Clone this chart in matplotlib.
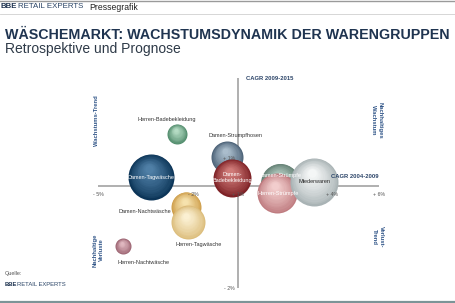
import numpy as np
import matplotlib
matplotlib.use("Agg")
import matplotlib.pyplot as plt
import matplotlib.transforms as mtransforms
from matplotlib.colors import to_rgb

plt.rcParams['font.family'] = ['Liberation Sans', 'DejaVu Sans']

# ---------------- data ----------------
categories = ["Herren-Badebekleidung", "Damen-Strumpfhosen", "Damen-Tagwäsche",
              "Damen-Badebekleidung", "Damen-Nachtwäsche", "Herren-Tagwäsche",
              "Herren-Nachtwäsche", "Damen-Strümpfe", "Herren-Strümpfe", "Miederwaren"]
cagr_2004_2009 = [-2.5, 0.27, -3.33, 0.6, -2.22, -2.16, -4.21, 2.34, 2.24, 3.43]
cagr_2009_2015 = [1.93, 1.07, 0.33, 0.30, -0.41, -0.71, -1.18, 0.11, -0.14, 0.15]
umsatz = [100, 256, 529, 361, 225, 289, 64, 380, 400, 576]

x_ticks = [-5, -2, 1, 4, 6]
x_tick_labels = ["- 5%", "- 2%", "+ 1%", "+ 4%", "+ 6%"]
y_ticks = [-2, 0, 1]
y_tick_labels = ["- 2%", "", "+ 1%"]
y_axis_top = 4.0

# ---------------- style ----------------
dark_cols = ["#4f8a6a", "#4d6378", "#0c3558", "#7e2226", "#cf9f4c", "#dcbd7c",
             "#9a6270", "#637f73", "#bf7c80", "#a9b3b5"]
light_cols = ["#b5dcc4", "#aabdcc", "#4f7fa6", "#cf7a78", "#f6e2ad", "#fbf0d2",
              "#e0b8c0", "#b2cac0", "#f2cdcd", "#f4f6f6"]
label_color = ["#333333", "#333333", "white", "white", "#333333", "#333333",
               "#333333", "white", "white", "#222222"]
label_text = ["Herren-Badebekleidung", "Damen-Strumpfhosen", "Damen-Tagwäsche",
              "Damen-\nBadebekleidung", "Damen-Nachtwäsche", "Herren-Tagwäsche",
              "Herren-Nachtwäsche", "Damen-Strümpfe", "Herren-Strümpfe", "Miederwaren"]
label_off_px = [(-10, 14), (8, 22), (0, 0), (0, 0), (-41, -5), (11, -22),
                (20, -16), (0, 8), (1, 0), (0, 0)]
draw_order = [0, 2, 1, 3, 4, 5, 6, 7, 8, 9]

W, H, DPI = 455, 303, 100
PT = 72.0 / DPI  # points per pixel

# pixel positions of the tick values (layout of the original graphic)
x_tick_px = [98, 193, 238, 332, 379]
y_tick_px = [288, 186, 159]


def piecewise(vals, pix):
    vals = np.asarray(vals, float)
    pix = np.asarray(pix, float)
    s0 = (pix[1] - pix[0]) / (vals[1] - vals[0])
    s1 = (pix[-1] - pix[-2]) / (vals[-1] - vals[-2])

    def f(v):
        v = np.asarray(v, float)
        out = np.interp(v, vals, pix)
        out = np.where(v < vals[0], pix[0] + (v - vals[0]) * s0, out)
        out = np.where(v > vals[-1], pix[-1] + (v - vals[-1]) * s1, out)
        return out
    return f


xfwd = piecewise(x_ticks, x_tick_px)
xinv = piecewise(x_tick_px, x_ticks)
yneg = [-p for p in y_tick_px]
yfwd = piecewise(y_ticks, yneg)
yinv = piecewise(yneg, y_ticks)

fig = plt.figure(figsize=(W / DPI, H / DPI), dpi=DPI)
fig.patch.set_facecolor("white")
ax = fig.add_axes([0, 0, 1, 1])
ax.set_xscale("function", functions=(xfwd, xinv))
ax.set_yscale("function", functions=(yfwd, yinv))
ax.set_xlim(float(xinv(0)), float(xinv(W)))
ax.set_ylim(float(yinv(-H)), float(yinv(0)))
ax.axis("off")

axis_col = "#9a9a9a"
# axes of the bubble chart
ax.plot([x_ticks[0], x_ticks[-1]], [0, 0], color=axis_col, lw=1.1, zorder=1,
        solid_capstyle="butt")
ax.plot([x_ticks[2], x_ticks[2]], [y_ticks[0], y_axis_top], color=axis_col, lw=1.1,
        zorder=1, solid_capstyle="butt")

# bubbles with a simple sphere shading
N = 14
for i in draw_order:
    r = np.sqrt(umsatz[i])  # radius in px
    dc = np.array(to_rgb(dark_cols[i]))
    lc = np.array(to_rgb(light_cols[i]))
    for k in range(N):
        t = k / (N - 1)
        rad = r * (1 - 0.82 * t)
        dx = -0.10 * r * t * PT
        dy = 0.36 * r * t * PT
        col = dc * (1 - t ** 0.8) + lc * t ** 0.8
        tr = mtransforms.offset_copy(ax.transData, fig=fig, x=dx, y=dy, units="points")
        ax.scatter([cagr_2004_2009[i]], [cagr_2009_2015[i]], s=(2 * rad * PT) ** 2,
                   color=[col], linewidths=0, transform=tr, zorder=3 + i * 0.01 + 0.0001 * k)

# bubble labels
for i in range(len(categories)):
    ox, oy = label_off_px[i]
    ax.annotate(label_text[i], (cagr_2004_2009[i], cagr_2009_2015[i]),
                xytext=(ox * PT, oy * PT), textcoords="offset points",
                ha="center", va="center", fontsize=4.0, color=label_color[i],
                linespacing=1.2, zorder=10)

# tick labels
tick_col = "#555555"
for v, lab in zip(x_ticks, x_tick_labels):
    ax.annotate(lab, (v, 0), xytext=(0, -8 * PT), textcoords="offset points",
                ha="center", va="center", fontsize=3.8, color=tick_col, zorder=11)
for v, lab in zip(y_ticks, y_tick_labels):
    if lab:
        ax.annotate(lab, (x_ticks[2], v), xytext=(-3 * PT, 0), textcoords="offset points",
                    ha="right", va="center", fontsize=3.8, color=tick_col, zorder=11)

# axis titles
navy = "#2b4468"
ax.annotate("CAGR 2009-2015", (x_ticks[2], y_axis_top), xytext=(8 * PT, 0),
            textcoords="offset points", ha="left", va="center", fontsize=4.2,
            fontweight="bold", color=navy, zorder=11)
ax.annotate("CAGR 2004-2009", (x_ticks[-1], 0), xytext=(0, 9 * PT),
            textcoords="offset points", ha="right", va="center", fontsize=4.2,
            fontweight="bold", color=navy, zorder=11)

# quadrant labels (figure pixel positions)
def fx(px):
    return px / W


def fy(py):
    return 1 - py / H


qkw = dict(fontsize=4.2, fontweight="bold", color="#2f5487", ha="center", va="center",
           linespacing=1.3)
fig.text(fx(97), fy(121), "Wachstums-Trend", rotation=90, **qkw)
fig.text(fx(377), fy(120), "Nachhaltiges\nWachstum", rotation=-90, **qkw)
fig.text(fx(98), fy(250), "Nachhaltige\nVerluste", rotation=90, **qkw)
fig.text(fx(378), fy(237), "Verlust-\nTrend", rotation=-90, **qkw)

# header
fig.add_artist(plt.Line2D([0, 1], [fy(0.5), fy(0.5)], color="#9a9a9a", lw=1.0))
fig.add_artist(plt.Line2D([0, 1], [fy(13.5), fy(13.5)], color="#d0d0d0", lw=0.6))
fig.text(fx(0.5), fy(7), "BBE", fontsize=5.6, fontweight="bold", color="#1e3350",
         ha="left", va="center")
fig.text(fx(18.5), fy(7), "RETAIL EXPERTS", fontsize=5.7, color="#2a4466",
         ha="left", va="center")
fig.text(fx(89), fy(7), "Pressegrafik", fontsize=6.2, color="#222222",
         ha="left", va="center")

fig.text(fx(5), fy(35), "WÄSCHEMARKT: WACHSTUMSDYNAMIK DER WARENGRUPPEN",
         fontsize=10.3, fontweight="bold", color="#1f3450", ha="left", va="center")
fig.text(fx(5), fy(49), "Retrospektive und Prognose", fontsize=10.0,
         color="#2e3a48", ha="left", va="center")

# footer
fig.text(fx(5), fy(274), "Quelle:", fontsize=4.0, color="#555555", ha="left", va="center")
fig.text(fx(5), fy(284), "BBE", fontsize=4.2, fontweight="bold", color="#1e3350",
         ha="left", va="center")
fig.text(fx(17), fy(284), "RETAIL EXPERTS", fontsize=4.2, color="#2a4466",
         ha="left", va="center")
fig.add_artist(plt.Line2D([0, 1], [fy(301.5), fy(301.5)], color="#7c9497", lw=1.6))

fig.savefig("out.png", dpi=DPI, facecolor="white")
